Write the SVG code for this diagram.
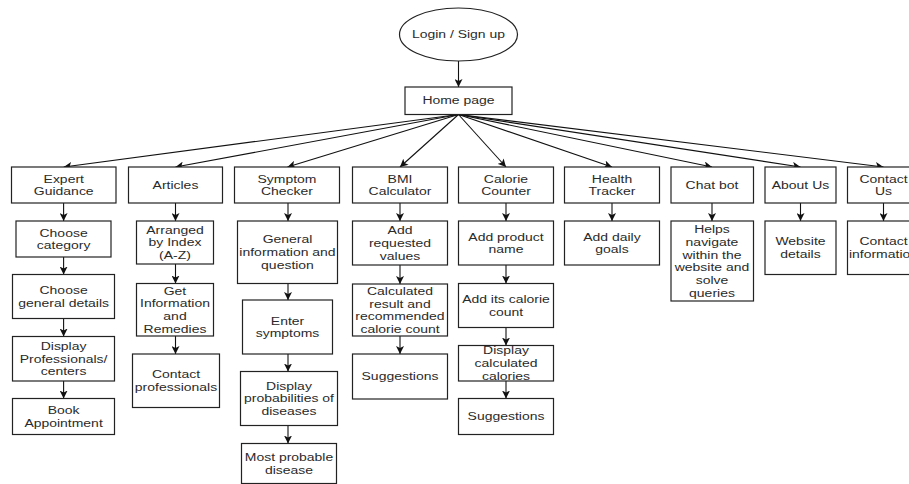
<svg xmlns="http://www.w3.org/2000/svg" width="909" height="484" viewBox="0 0 909 484">
<style>
.b{fill:#fff;stroke:#222;stroke-width:1.2}
.c{stroke:#111;stroke-width:1.1;fill:none;marker-end:url(#ah)}
text{font-family:"Liberation Sans",Arial,sans-serif;font-size:11px;fill:#2a2a2a;text-anchor:middle}
</style>
<defs>
<marker id="ah" markerUnits="userSpaceOnUse" markerWidth="9" markerHeight="8" refX="8" refY="4" orient="auto">
<path d="M0,0 L8,4 L0,8 L2,4 Z" fill="#111"/>
</marker>
</defs>
<rect width="909" height="484" fill="#fff"/>
<g id="connectors">
<line class="c" x1="458.5" y1="61" x2="458.5" y2="87"/>
<line class="c" x1="458.5" y1="114.5" x2="63.7" y2="167"/>
<line class="c" x1="458.5" y1="114.5" x2="175.5" y2="167"/>
<line class="c" x1="458.5" y1="114.5" x2="287.5" y2="167"/>
<line class="c" x1="458.5" y1="114.5" x2="400" y2="167"/>
<line class="c" x1="458.5" y1="114.5" x2="506" y2="167"/>
<line class="c" x1="458.5" y1="114.5" x2="612" y2="167"/>
<line class="c" x1="458.5" y1="114.5" x2="712" y2="167"/>
<line class="c" x1="458.5" y1="114.5" x2="800.5" y2="167"/>
<line class="c" x1="458.5" y1="114.5" x2="883.5" y2="167"/>
<line class="c" x1="63.6" y1="203" x2="63.6" y2="221"/>
<line class="c" x1="63.6" y1="257" x2="63.6" y2="274.5"/>
<line class="c" x1="63.6" y1="318.5" x2="63.6" y2="336.5"/>
<line class="c" x1="63.6" y1="381" x2="63.6" y2="398.5"/>
<line class="c" x1="175.5" y1="203" x2="175.5" y2="221"/>
<line class="c" x1="175.5" y1="264" x2="175.5" y2="283.5"/>
<line class="c" x1="175.5" y1="336" x2="175.5" y2="354"/>
<line class="c" x1="288" y1="203" x2="288" y2="221"/>
<line class="c" x1="288" y1="283.5" x2="288" y2="300"/>
<line class="c" x1="288" y1="354" x2="288" y2="371.5"/>
<line class="c" x1="288" y1="425.5" x2="288" y2="443.5"/>
<line class="c" x1="400" y1="203" x2="400" y2="221"/>
<line class="c" x1="400" y1="265" x2="400" y2="284"/>
<line class="c" x1="400" y1="336" x2="400" y2="354"/>
<line class="c" x1="506" y1="203" x2="506" y2="221"/>
<line class="c" x1="506" y1="265" x2="506" y2="283.5"/>
<line class="c" x1="506" y1="327.5" x2="506" y2="345.5"/>
<line class="c" x1="506" y1="381" x2="506" y2="398.5"/>
<line class="c" x1="612" y1="203" x2="612" y2="221"/>
<line class="c" x1="712" y1="203" x2="712" y2="221"/>
<line class="c" x1="800.5" y1="203" x2="800.5" y2="221"/>
<line class="c" x1="883.5" y1="203" x2="883.5" y2="221"/>
</g>
<g id="shapes">
<g id="login"><ellipse class="b" cx="458.5" cy="34.5" rx="59" ry="26.5"/></g>
<g id="home"><rect class="b" x="405" y="87" width="107" height="27.5"/></g>
<g id="expert"><rect class="b" x="11.5" y="167" width="104.5" height="36"/></g>
<g id="articles"><rect class="b" x="128.5" y="167" width="94" height="36"/></g>
<g id="symptom"><rect class="b" x="234.5" y="167" width="105" height="36"/></g>
<g id="bmi"><rect class="b" x="352.5" y="167" width="95" height="36"/></g>
<g id="calorie"><rect class="b" x="458.5" y="167" width="95" height="36"/></g>
<g id="health"><rect class="b" x="564.5" y="167" width="95" height="36"/></g>
<g id="chatbot"><rect class="b" x="671" y="167" width="82.5" height="36"/></g>
<g id="about"><rect class="b" x="765" y="167" width="71" height="36"/></g>
<g id="contact"><rect class="b" x="847.5" y="167" width="72" height="36"/></g>
<g id="e1"><rect class="b" x="16" y="221" width="95" height="36"/></g>
<g id="e2"><rect class="b" x="12.5" y="274.5" width="102" height="44"/></g>
<g id="e3"><rect class="b" x="12.5" y="336.5" width="102" height="44.5"/></g>
<g id="e4"><rect class="b" x="12.5" y="398.5" width="102" height="36"/></g>
<g id="a1"><rect class="b" x="136.5" y="221" width="77" height="43"/></g>
<g id="a2"><rect class="b" x="136.5" y="283.5" width="77" height="52.5"/></g>
<g id="a3"><rect class="b" x="132.5" y="354" width="87" height="53.5"/></g>
<g id="s1"><rect class="b" x="237.5" y="221" width="100" height="62.5"/></g>
<g id="s2"><rect class="b" x="242.5" y="300" width="90" height="54"/></g>
<g id="s3"><rect class="b" x="240.5" y="371.5" width="97" height="54"/></g>
<g id="s4"><rect class="b" x="241.5" y="443.5" width="95" height="40"/></g>
<g id="b1"><rect class="b" x="352.5" y="221" width="95" height="44"/></g>
<g id="b2"><rect class="b" x="352.5" y="284" width="95" height="52"/></g>
<g id="b3"><rect class="b" x="352.5" y="354" width="95" height="45"/></g>
<g id="c1"><rect class="b" x="458.5" y="221" width="95" height="44"/></g>
<g id="c2"><rect class="b" x="458.5" y="283.5" width="95" height="44"/></g>
<g id="c3"><rect class="b" x="458.5" y="345.5" width="95" height="35.5"/></g>
<g id="c4"><rect class="b" x="458.5" y="398.5" width="95" height="36"/></g>
<g id="h1"><rect class="b" x="564.5" y="221" width="95" height="44"/></g>
<g id="ch1"><rect class="b" x="671" y="221" width="82.5" height="80"/></g>
<g id="ab1"><rect class="b" x="765" y="221" width="71" height="53.5"/></g>
<g id="co1"><rect class="b" x="847.5" y="221" width="72" height="53.5"/></g>
</g>
<g id="labels" transform="scale(1.27 1)">
<text x="361.02" y="38.4">Login / Sign up</text>
<text x="361.02" y="104.4">Home page</text>
<text x="50.2" y="182.55">Expert<tspan x="50.2" dy="12.7">Guidance</tspan></text>
<text x="138.19" y="188.9">Articles</text>
<text x="225.98" y="182.55">Symptom<tspan x="225.98" dy="12.7">Checker</tspan></text>
<text x="314.96" y="182.55">BMI<tspan x="314.96" dy="12.7">Calculator</tspan></text>
<text x="398.43" y="182.55">Calorie<tspan x="398.43" dy="12.7">Counter</tspan></text>
<text x="481.89" y="182.55">Health<tspan x="481.89" dy="12.7">Tracker</tspan></text>
<text x="560.63" y="188.9">Chat bot</text>
<text x="630.31" y="188.9">About Us</text>
<text x="695.67" y="182.55">Contact<tspan x="695.67" dy="12.7">Us</tspan></text>
<text x="50.08" y="236.55">Choose<tspan x="50.08" dy="12.7">category</tspan></text>
<text x="50.08" y="294.05">Choose<tspan x="50.08" dy="12.7">general details</tspan></text>
<text x="50.08" y="349.95">Display<tspan x="50.08" dy="12.7">Professionals/</tspan><tspan x="50.08" dy="12.7">centers</tspan></text>
<text x="50.08" y="414.05">Book<tspan x="50.08" dy="12.7">Appointment</tspan></text>
<text x="137.8" y="233.7">Arranged<tspan x="137.8" dy="12.7">by Index</tspan><tspan x="137.8" dy="12.7">(A-Z)</tspan></text>
<text x="137.8" y="294.6">Get<tspan x="137.8" dy="12.7">Information</tspan><tspan x="137.8" dy="12.7">and</tspan><tspan x="137.8" dy="12.7">Remedies</tspan></text>
<text x="138.58" y="378.3">Contact<tspan x="138.58" dy="12.7">professionals</tspan></text>
<text x="226.38" y="243.45">General<tspan x="226.38" dy="12.7">information and</tspan><tspan x="226.38" dy="12.7">question</tspan></text>
<text x="226.38" y="324.55">Enter<tspan x="226.38" dy="12.7">symptoms</tspan></text>
<text x="227.56" y="389.7">Display<tspan x="227.56" dy="12.7">probabilities of</tspan><tspan x="227.56" dy="12.7">diseases</tspan></text>
<text x="227.56" y="461.05">Most probable<tspan x="227.56" dy="12.7">disease</tspan></text>
<text x="314.96" y="234.2">Add<tspan x="314.96" dy="12.7">requested</tspan><tspan x="314.96" dy="12.7">values</tspan></text>
<text x="314.96" y="294.85">Calculated<tspan x="314.96" dy="12.7">result and</tspan><tspan x="314.96" dy="12.7">recommended</tspan><tspan x="314.96" dy="12.7">calorie count</tspan></text>
<text x="314.96" y="380.4">Suggestions</text>
<text x="398.43" y="240.55">Add product<tspan x="398.43" dy="12.7">name</tspan></text>
<text x="398.43" y="303.05">Add its calorie<tspan x="398.43" dy="12.7">count</tspan></text>
<text x="398.43" y="354.45">Display<tspan x="398.43" dy="12.7">calculated</tspan><tspan x="398.43" dy="12.7">calories</tspan></text>
<text x="398.43" y="420.4">Suggestions</text>
<text x="481.89" y="240.55">Add daily<tspan x="481.89" dy="12.7">goals</tspan></text>
<text x="560.63" y="233.15">Helps<tspan x="560.63" dy="12.7">navigate</tspan><tspan x="560.63" dy="12.7">within the</tspan><tspan x="560.63" dy="12.7">website and</tspan><tspan x="560.63" dy="12.7">solve</tspan><tspan x="560.63" dy="12.7">queries</tspan></text>
<text x="630.31" y="245.3">Website<tspan x="630.31" dy="12.7">details</tspan></text>
<text x="695.67" y="245.3">Contact<tspan x="695.67" dy="12.7">information</tspan></text>
</g>
</svg>
